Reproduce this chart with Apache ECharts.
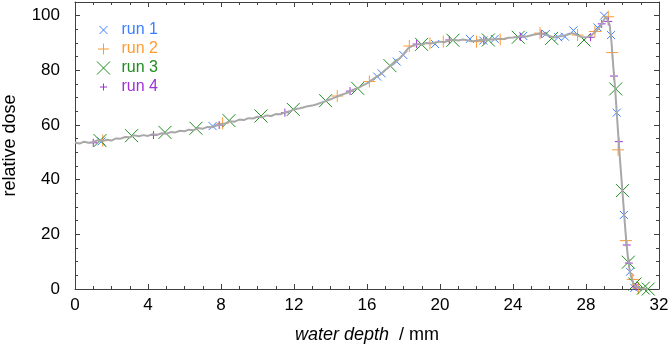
<!DOCTYPE html>
<html>
<head>
<meta charset="utf-8">
<script src="https://cdn.jsdelivr.net/npm/echarts@6/dist/echarts.min.js"></script>
<style>
  html, body { margin: 0; padding: 0; background: #fff; }
  #chart { width: 671px; height: 347px; }
</style>
</head>
<body>
<div id="chart"></div>
<script>
// measured depth-dose curve (grey line)
var curveDepth = [
  0.00, 0.25, 0.50, 0.75, 1.00, 1.25, 1.50, 1.75, 2.00, 2.25, 2.50, 2.75, 3.00, 3.25, 3.50, 3.75,
  4.00, 4.25, 4.50, 4.75, 5.00, 5.25, 5.50, 5.75, 6.00, 6.25, 6.50, 6.75, 7.00, 7.25, 7.50, 7.75,
  8.00, 8.25, 8.50, 8.75, 9.00, 9.25, 9.50, 9.75, 10.00, 10.25, 10.50, 10.75, 11.00, 11.25, 11.50, 11.75,
  12.00, 12.25, 12.50, 12.75, 13.00, 13.25, 13.50, 13.75, 14.00, 14.25, 14.50, 14.75, 15.00, 15.25, 15.50, 15.75,
  16.00, 16.25, 16.50, 16.75, 17.00, 17.25, 17.50, 17.75, 18.00, 18.25, 18.50, 18.75, 19.00, 19.25, 19.50, 19.75,
  20.00, 20.25, 20.50, 20.75, 21.00, 21.25, 21.50, 21.75, 22.00, 22.25, 22.50, 22.75, 23.00, 23.25, 23.50, 23.75,
  24.00, 24.25, 24.50, 24.75, 25.00, 25.25, 25.50, 25.75, 26.00, 26.25, 26.50, 26.75, 27.00, 27.25, 27.50, 27.75,
  28.00, 28.25, 28.50, 28.75, 29.00, 29.10, 29.20, 29.30, 29.40, 29.50, 29.60, 29.70, 29.80, 29.90, 30.00, 30.10,
  30.20, 30.30, 30.40, 30.50, 30.60, 30.70, 30.80, 31.00, 31.20, 31.40
];
var curveDose = [
  53.6, 53.2, 53.9, 53.5, 53.8, 54.4, 54.1, 54.6, 54.3, 55.1, 55.0, 55.6, 55.5, 56.2, 55.9, 56.3,
  56.0, 56.6, 56.4, 57.0, 56.8, 57.4, 57.3, 57.9, 57.7, 58.3, 58.1, 58.9, 58.6, 59.3, 59.2, 59.8,
  60.3, 60.6, 61.4, 61.2, 62.0, 61.8, 62.5, 62.4, 63.0, 62.8, 63.5, 63.3, 64.0, 63.9, 64.6, 65.0,
  65.7, 66.0, 66.4, 66.9, 67.1, 67.6, 68.2, 68.8, 69.4, 70.1, 70.8, 71.4, 72.0, 72.9, 73.5, 74.4,
  75.2, 76.4, 77.5, 78.6, 80.1, 81.5, 82.8, 84.2, 85.9, 88.0, 89.0, 89.6, 89.4, 90.0, 89.8, 90.2,
  90.5, 90.3, 91.0, 91.2, 90.9, 91.3, 91.0, 90.6, 90.8, 91.2, 91.0, 91.4, 91.3, 91.6, 91.5, 91.9,
  92.0, 92.3, 92.5, 92.4, 92.8, 93.2, 93.5, 93.1, 92.6, 92.0, 92.4, 92.6, 93.1, 93.6, 93.0, 92.2,
  92.0, 92.6, 94.0, 95.8, 98.6, 99.8, 99.2, 96.5, 90.0, 81.0, 73.0, 63.0, 53.0, 44.0, 35.5, 26.5,
  18.0, 11.5, 6.5, 3.8, 2.0, 1.0, 0.5, 0.2, 0.1, 0.0
];

// single runs
var run1Depth = [1.45, 7.54, 16.56, 16.80, 17.63, 17.99, 19.73, 21.64, 22.37, 23.00, 24.56, 25.80, 26.48, 26.85, 27.31, 28.63, 28.99, 29.37, 29.68, 30.08, 30.41, 30.65];
var run1Dose  = [54.0, 59.6, 77.7, 78.9, 83.2, 85.6, 89.6, 91.5, 90.9, 91.5, 92.6, 93.3, 92.1, 92.3, 94.6, 95.7, 100.0, 92.9, 64.5, 27.1, 6.3, 0.4];

var run2Depth = [1.52, 8.09, 14.37, 16.13, 18.32, 19.45, 20.18, 22.00, 23.30, 25.48, 27.54, 28.49, 29.22, 29.44, 29.76, 30.19, 30.56, 30.87];
var run2Dose  = [54.3, 60.6, 70.6, 75.9, 88.9, 89.9, 90.5, 90.5, 91.3, 93.6, 92.9, 94.2, 99.6, 86.5, 50.9, 17.7, 3.5, 0.3];

var run3Depth = [1.37, 3.10, 4.93, 6.63, 8.44, 10.19, 11.96, 13.73, 15.49, 17.26, 18.99, 20.71, 22.65, 24.29, 26.12, 27.89, 29.63, 30.00, 30.32, 30.68, 31.14, 31.41];
var run3Dose  = [54.3, 56.1, 57.3, 58.8, 61.6, 63.3, 65.7, 68.9, 73.4, 81.7, 89.5, 91.0, 91.1, 92.1, 91.7, 91.1, 73.2, 36.0, 9.8, 1.8, 0.3, 0.0];

var run4Depth = [1.00, 4.30, 7.90, 11.50, 15.07, 18.72, 20.51, 22.40, 24.40, 25.55, 28.25, 28.86, 29.22, 29.53, 29.80, 30.23, 30.35, 30.74];
var run4Dose  = [53.5, 56.3, 60.0, 64.5, 72.4, 89.6, 91.1, 91.0, 92.2, 93.4, 92.1, 97.0, 97.9, 77.9, 53.9, 16.1, 9.5, 0.8];

var runNames  = ['run 1', 'run 2', 'run 3', 'run 4'];
var runColors = ['#3d7eff', '#ff9a33', '#1e8c1e', '#a030d8'];

var xTicksMajor = 4;
var yTicksMajor = 20;

var CROSS = 'path://M0,0L10,10M10,0L0,10';
var PLUS = 'path://M5,0L5,10M0,5L10,5';
// legend icons: padded to a 14x14 box so they keep their own size
var legendIcons = [
  'path://M0,0M14,14M3,3L11,11M11,3L3,11',
  'path://M0,0M14,14M7,1.5L7,12.5M1.5,7L12.5,7',
  'path://M0,0M14,14M0.5,0.5L13.5,13.5M13.5,0.5L0.5,13.5',
  'path://M0,0M14,14M7,3.5L7,10.5M3.5,7L10.5,7'
];

function pairs(xs, ys) {
  return xs.map(function (x, i) { return [x, ys[i]]; });
}

var AX = '#404040';
var FONT = '"Liberation Sans", Arial, sans-serif';

function xAxisDef(pos, labels) {
  return {
    type: 'value', position: pos, min: 0, max: 32, interval: xTicksMajor,
    axisLine: { show: true, onZero: false, lineStyle: { color: AX, width: 1 } },
    axisTick: { show: true, inside: true, length: 5, lineStyle: { color: AX } },
    minorTick: { show: true, splitNumber: 4, length: 3, lineStyle: { color: AX } },
    axisLabel: { show: labels, color: '#000', fontSize: 17, fontFamily: FONT, margin: 8 },
    splitLine: { show: false },
    name: labels ? '{i|water depth}  / mm' : '',
    nameLocation: 'middle', nameGap: 37,
    nameTextStyle: {
      color: '#000', fontSize: 18, fontFamily: FONT,
      rich: { i: { fontStyle: 'italic', fontSize: 18, fontFamily: FONT, color: '#000' } }
    }
  };
}

function yAxisDef(pos, step, tickLen, labels, line) {
  return {
    type: 'value', position: pos, min: 0, max: 105, interval: step,
    axisLine: { show: line, onZero: false, lineStyle: { color: AX, width: 1 } },
    axisTick: { show: true, inside: true, length: tickLen, lineStyle: { color: AX } },
    axisLabel: {
      show: labels, color: '#000', fontSize: 17, fontFamily: FONT, margin: 15,
      formatter: function (v) { return v % yTicksMajor === 0 ? String(v) : ''; }
    },
    splitLine: { show: false },
    name: labels ? 'relative dose' : '',
    nameLocation: 'middle', nameGap: 56,
    nameTextStyle: { color: '#000', fontSize: 18, fontFamily: FONT }
  };
}

var chart = echarts.init(document.getElementById('chart'));

var series = [{
  type: 'line', name: 'curve', data: pairs(curveDepth, curveDose),
  showSymbol: false, silent: true,
  lineStyle: { color: '#a8a8a8', width: 2 }
}];
var runData = [[run1Depth, run1Dose], [run2Depth, run2Dose], [run3Depth, run3Dose], [run4Depth, run4Dose]];
var runSymbols = [CROSS, PLUS, CROSS, PLUS];
var runSizes = [8, 12, 13, 8];
runData.forEach(function (r, i) {
  series.push({
    type: 'scatter', name: runNames[i], data: pairs(r[0], r[1]),
    symbol: runSymbols[i], symbolSize: runSizes[i],
    itemStyle: { color: runColors[i], borderColor: runColors[i], borderWidth: 1, opacity: 1 }
  });
});

chart.setOption({
  animation: false,
  grid: { left: 75, right: 12, top: 2, bottom: 58, outerBoundsMode: 'none', containLabel: false },
  legend: {
    orient: 'vertical', left: 91, top: 17, itemGap: 3,
    itemWidth: 26, itemHeight: 14, symbolKeepAspect: true,
    textStyle: { fontSize: 16, fontFamily: FONT },
    data: runNames.map(function (n, i) {
      return {
        name: n, icon: legendIcons[i],
        itemStyle: { color: runColors[i], borderColor: runColors[i], borderWidth: 1 },
        textStyle: { color: runColors[i], fontSize: 16, fontFamily: FONT }
      };
    })
  },
  xAxis: [xAxisDef('bottom', true), xAxisDef('top', false)],
  yAxis: [
    yAxisDef('left', 5, 3, true, true),
    yAxisDef('left', yTicksMajor, 5, false, false),
    yAxisDef('right', 5, 3, false, true),
    yAxisDef('right', yTicksMajor, 5, false, false)
  ],
  series: series
});
</script>
</body>
</html>
